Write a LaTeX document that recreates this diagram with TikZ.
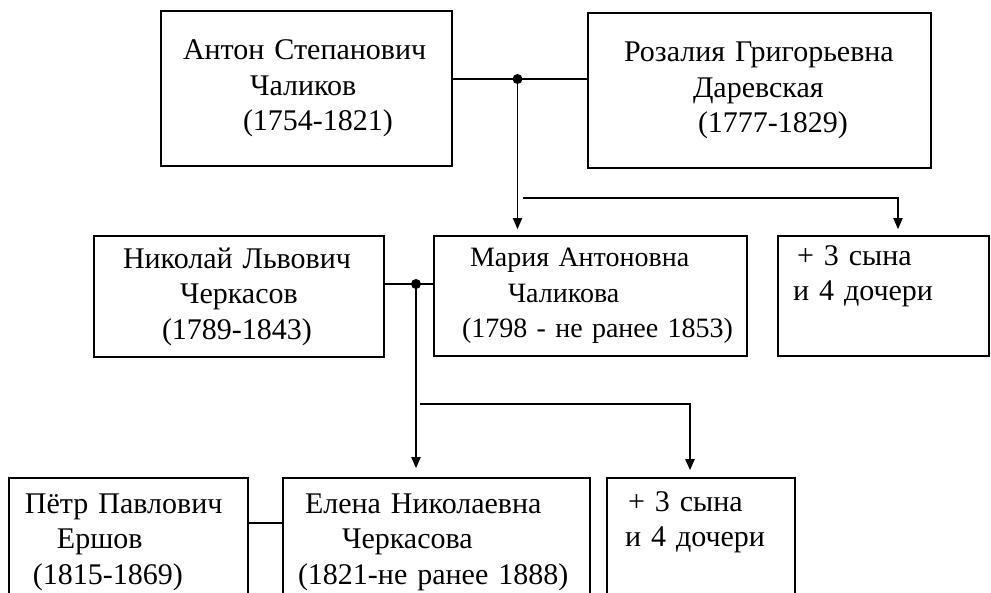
\documentclass[tikz,border=0pt]{standalone}
\usepackage{fontspec}
\setmainfont{Liberation Serif}
\usetikzlibrary{arrows.meta}
\tikzset{
  person/.style={draw, line width=1.6pt, rectangle, inner xsep=0pt, inner ysep=2pt,
    align=left, font={\fontsize{30}{35.5}\selectfont}},
  conn/.style={line width=1.8pt},
  arr/.style={conn, -{Triangle[length=11pt,width=9pt]}},
}
\newcommand{\ind}[1]{\hspace*{#1pt}}
\begin{document}
\begin{tikzpicture}[x=1pt,y=-1pt]
\useasboundingbox (0,0) rectangle (991,592);
\clip (0,0) rectangle (991,592);
% top row
\node[person, text width=291pt, minimum height=155pt] (A) at (306.5,88.5)
  {\ind{22}Антон Степанович\\\ind{89}Чаликов\\\ind{82}(1754-1821)};
\node[person, text width=343pt, minimum height=155pt] (R) at (759.5,90.5)
  {\ind{36}Розалия Григорьевна\\\ind{105}Даревская\\\ind{110}(1777-1829)};
% middle row
\node[person, text width=290pt, minimum height=121pt] (N) at (239,296.5)
  {\ind{29}Николай Львович\\\ind{86}Черкасов\\\ind{68}(1789-1843)};
\node[person, text width=313pt, minimum height=120pt,
      font={\fontsize{28}{35.5}\selectfont}] (M) at (590.5,296)
  {\ind{36}Мария Антоновна\\\ind{74}Чаликова\\\ind{28}(1798 - не ранее 1853)};
\node[person, text width=211pt, minimum height=120pt] (S1) at (883.5,296)
  {\ind{19}+ 3 сына\\\ind{15}и 4 дочери\\\strut};
% bottom row
\node[person, text width=239pt, minimum height=128pt] (P) at (128.5,542)
  {\ind{16}Пётр Павлович\\\ind{48}Ершов\\\ind{24}(1815-1869)};
\node[person, text width=307pt, minimum height=128pt] (E) at (436.5,542)
  {\ind{22}Елена Николаевна\\\ind{59}Черкасова\\\ind{15}(1821-не ранее 1888)};
\node[person, text width=188pt, minimum height=128pt] (S2) at (701,542)
  {\ind{21}+ 3 сына\\\ind{18}и 4 дочери\\\strut};
% connectors, first couple
\coordinate (d1) at (517.5,79);
\draw[conn] (A.east |- d1) -- (R.west |- d1);
\fill (d1) circle (5pt);
\draw[arr, shorten >=6pt] (d1) -- (d1 |- M.north);
\coordinate (h1) at (523,198);
\coordinate (h1e) at (898,198);
\draw[arr, shorten >=6pt] (h1) -- (h1e) -- (h1e |- S1.north);
% second couple
\coordinate (d2) at (416,284);
\draw[conn] (N.east |- d2) -- (M.west |- d2);
\fill (d2) circle (5pt);
\draw[arr, shorten >=9pt] (d2) -- (d2 |- E.north);
\coordinate (h2) at (420,404);
\coordinate (h2e) at (690,404);
\draw[arr, shorten >=7pt] (h2) -- (h2e) -- (h2e |- S2.north);
% third couple
\coordinate (m3) at (265,523);
\draw[conn] (P.east |- m3) -- (E.west |- m3);
\end{tikzpicture}
\end{document}
